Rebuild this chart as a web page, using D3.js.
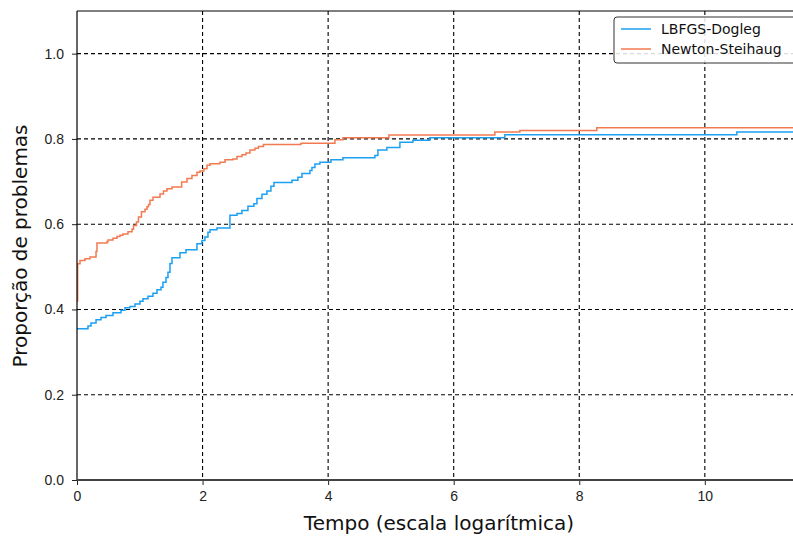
<!DOCTYPE html>
<html>
<head>
<meta charset="utf-8">
<script src="https://cdn.jsdelivr.net/npm/d3@7"></script>
<style>
	body { margin: 0; background: #fff; }
	svg { display: block; font-family: "DejaVu Sans", sans-serif; }
</style>
</head>
<body>
<svg width="793" height="538"></svg>
<script>
// performance profile
const lbfgsTau = [0, 0.175, 0.223, 0.303, 0.382, 0.462, 0.573, 0.701, 0.764, 0.844, 0.924, 1.003, 1.051, 1.131, 1.210, 1.274, 1.338, 1.369, 1.417, 1.449, 1.481, 1.513, 1.640, 1.736, 1.911, 1.990, 2.038, 2.086, 2.118, 2.229, 2.436, 2.548, 2.627, 2.723, 2.818, 2.866, 2.946, 3.025, 3.089, 3.137, 3.424, 3.519, 3.583, 3.710, 3.742, 3.790, 3.869, 4.045, 4.236, 4.745, 4.793, 4.936, 5.143, 5.350, 5.621, 6.815, 10.510, 11.6];
const lbfgsProp = [0.355, 0.361, 0.368, 0.376, 0.381, 0.386, 0.392, 0.398, 0.404, 0.407, 0.413, 0.419, 0.425, 0.431, 0.438, 0.446, 0.452, 0.464, 0.475, 0.487, 0.508, 0.521, 0.533, 0.540, 0.554, 0.562, 0.570, 0.581, 0.587, 0.591, 0.621, 0.625, 0.632, 0.642, 0.648, 0.660, 0.670, 0.678, 0.689, 0.698, 0.703, 0.710, 0.719, 0.726, 0.733, 0.741, 0.745, 0.751, 0.756, 0.761, 0.774, 0.780, 0.792, 0.797, 0.803, 0.810, 0.816, 0.816];

const newtonTau = [0, 0.01, 0.048, 0.127, 0.207, 0.303, 0.318, 0.478, 0.494, 0.573, 0.637, 0.685, 0.732, 0.812, 0.876, 0.900, 0.947, 0.979, 1.027, 1.083, 1.115, 1.139, 1.162, 1.210, 1.322, 1.377, 1.433, 1.513, 1.667, 1.752, 1.831, 1.911, 1.959, 2.022, 2.070, 2.118, 2.277, 2.357, 2.484, 2.548, 2.627, 2.691, 2.755, 2.834, 2.890, 2.970, 3.567, 4.108, 4.236, 4.968, 6.656, 7.054, 8.280, 11.6];
const newtonProp = [0.42, 0.507, 0.515, 0.519, 0.523, 0.536, 0.556, 0.559, 0.563, 0.567, 0.571, 0.574, 0.577, 0.582, 0.588, 0.597, 0.605, 0.617, 0.629, 0.635, 0.641, 0.646, 0.656, 0.663, 0.671, 0.678, 0.683, 0.687, 0.699, 0.707, 0.714, 0.722, 0.725, 0.730, 0.738, 0.742, 0.745, 0.751, 0.753, 0.759, 0.763, 0.767, 0.774, 0.778, 0.782, 0.787, 0.790, 0.798, 0.803, 0.809, 0.816, 0.820, 0.826, 0.826];

const seriesNames = ["LBFGS-Dogleg", "Newton-Steihaug"];
const seriesColours = ["#1ba0f2", "#f27a50"];
const xTicks = [0, 2, 4, 6, 8, 10];
const yTicks = [0, 0.2, 0.4, 0.6, 0.8, 1.0];

const svg = d3.select("svg");
const margin = {left: 77, top: 11, bottom: 480};
const plotRight = 799;

const x = d3.scaleLinear().domain([0, 11.5]).range([margin.left, plotRight]);
const y = d3.scaleLinear().domain([0, 1.1]).range([margin.bottom, margin.top]);

svg.append("defs").append("clipPath").attr("id", "plotclip")
	.append("rect")
		.attr("x", margin.left).attr("y", margin.top)
		.attr("width", plotRight - margin.left).attr("height", margin.bottom - margin.top);

// grid
const grid = svg.append("g").attr("class", "grid");
grid.selectAll("line.gx").data(xTicks.slice(1)).enter().append("line")
	.attr("class", "gx")
	.attr("x1", d => x(d)).attr("x2", d => x(d))
	.attr("y1", margin.top).attr("y2", margin.bottom)
	.attr("stroke", "#000").attr("stroke-width", 1.1)
	.attr("stroke-dasharray", "4,3");
grid.selectAll("line.gy").data(yTicks.slice(1)).enter().append("line")
	.attr("class", "gy")
	.attr("x1", margin.left).attr("x2", plotRight)
	.attr("y1", d => y(d)).attr("y2", d => y(d))
	.attr("stroke", "#000").attr("stroke-width", 1.1)
	.attr("stroke-dasharray", "4,3");

// curves
const series = [
	{name: seriesNames[0], colour: seriesColours[0], pts: lbfgsTau.map((t, i) => [t, lbfgsProp[i]])},
	{name: seriesNames[1], colour: seriesColours[1], pts: newtonTau.map((t, i) => [t, newtonProp[i]])},
];
const line = d3.line()
	.x(d => x(d[0]))
	.y(d => y(d[1]))
	.curve(d3.curveStepAfter);

svg.append("g").attr("clip-path", "url(#plotclip)")
	.selectAll("path").data(series).enter().append("path")
		.attr("d", d => line(d.pts))
		.attr("fill", "none")
		.attr("stroke", d => d.colour)
		.attr("stroke-width", 1.5);

// axes
const xAxis = d3.axisBottom(x).tickValues(xTicks).tickFormat(d3.format("d")).tickSize(5).tickPadding(6);
const yAxis = d3.axisLeft(y).tickValues(yTicks).tickFormat(d3.format(".1f")).tickSize(5).tickPadding(8);

const gx = svg.append("g").attr("transform", `translate(0,${margin.bottom})`).call(xAxis);
const gy = svg.append("g").attr("transform", `translate(${margin.left},0)`).call(yAxis);
[gx, gy].forEach(g => {
	g.select(".domain").remove();
	g.selectAll(".tick line").attr("stroke", "#222").attr("stroke-width", 1);
	g.selectAll(".tick text").attr("fill", "#222").style("font-size", "14px");
});

// spines
svg.append("line").attr("x1", margin.left).attr("x2", margin.left)
	.attr("y1", margin.top).attr("y2", margin.bottom)
	.attr("stroke", "#000").attr("stroke-width", 1.2);
svg.append("line").attr("x1", margin.left).attr("x2", plotRight)
	.attr("y1", margin.top).attr("y2", margin.top)
	.attr("stroke", "#000").attr("stroke-width", 1.2);
svg.append("line").attr("x1", margin.left).attr("x2", plotRight)
	.attr("y1", margin.bottom).attr("y2", margin.bottom)
	.attr("stroke", "#444").attr("stroke-width", 2);

// labels
svg.append("text")
	.attr("x", 439).attr("y", 530)
	.attr("text-anchor", "middle")
	.style("font-size", "20px").attr("fill", "#111")
	.text("Tempo (escala logarítmica)");
svg.append("text")
	.attr("transform", `translate(27,246) rotate(-90)`)
	.attr("text-anchor", "middle")
	.style("font-size", "20px").attr("fill", "#111")
	.text("Proporção de problemas");

// legend
const legend = svg.append("g").attr("transform", "translate(614,17)");
legend.append("rect")
	.attr("width", 190).attr("height", 46).attr("rx", 3)
	.attr("fill", "#fff").attr("fill-opacity", 0.85)
	.attr("stroke", "#333").attr("stroke-width", 1);
const item = legend.selectAll("g.item").data(series).enter().append("g")
	.attr("class", "item")
	.attr("transform", (d, i) => `translate(7,${12 + i * 20})`);
item.append("line").attr("x1", 0).attr("x2", 30)
	.attr("stroke", d => d.colour).attr("stroke-width", 1.5);
item.append("text").attr("x", 40).attr("y", 5)
	.style("font-size", "14px").attr("fill", "#111")
	.text(d => d.name);
</script>
</body>
</html>
